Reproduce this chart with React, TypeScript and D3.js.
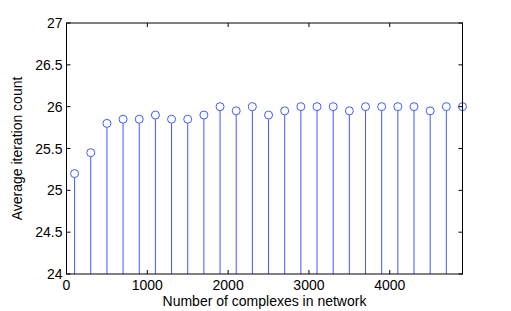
import { useEffect, useRef } from 'react';
import * as d3 from 'd3';

// network sizes (number of complexes) and average iteration counts
const complexes = [100, 300, 500, 700, 900, 1100, 1300, 1500, 1700, 1900, 2100, 2300, 2500,
  2700, 2900, 3100, 3300, 3500, 3700, 3900, 4100, 4300, 4500, 4700, 4900];
const iterations = [25.2, 25.45, 25.8, 25.85, 25.85, 25.9, 25.85, 25.85, 25.9, 26, 25.95, 26, 25.9,
  25.95, 26, 26, 26, 25.95, 26, 26, 26, 26, 25.95, 26, 26];
const xTicks = [0, 1000, 2000, 3000, 4000];
const yTicks = [24, 24.5, 25, 25.5, 26, 26.5, 27];

const App = () => {
  const svgRef = useRef<SVGSVGElement>(null);

  useEffect(() => {
    const width = 511;
    const height = 311;
    const margin = { top: 23, right: 48.5, bottom: 37, left: 66.5 };
    const fs = 14;

    const svg = d3.select(svgRef.current)
      .attr('width', width)
      .attr('height', height)
      .style('font-family', '"Liberation Sans", Arial, sans-serif');
    svg.selectAll('*').remove();

    const x = d3.scaleLinear()
      .domain([0, 4900])
      .range([margin.left, width - margin.right]);
    const y = d3.scaleLinear()
      .domain([24, 27])
      .range([height - margin.bottom, margin.top]);

    const data = complexes.map((c, i) => ({ c, v: iterations[i] }));
    const color = '#3f5cff';

    // stems
    svg.append('g')
      .selectAll('line')
      .data(data)
      .enter().append('line')
      .attr('x1', d => x(d.c))
      .attr('x2', d => x(d.c))
      .attr('y1', y(24))
      .attr('y2', d => y(d.v) + 4)
      .attr('stroke', color)
      .attr('stroke-width', 1);

    // markers
    svg.append('g')
      .selectAll('circle')
      .data(data)
      .enter().append('circle')
      .attr('cx', d => x(d.c))
      .attr('cy', d => y(d.v))
      .attr('r', 4)
      .attr('fill', 'none')
      .attr('stroke', color)
      .attr('stroke-width', 1);

    // box + inward ticks
    const [x0, x1] = x.range();
    const [y0, y1] = y.range();
    const axes = svg.append('g').attr('stroke', '#000').attr('stroke-width', 1);
    axes.append('rect')
      .attr('x', x0).attr('y', y1)
      .attr('width', x1 - x0).attr('height', y0 - y1)
      .attr('fill', 'none');
    const tk = 4;
    xTicks.forEach(t => {
      axes.append('line').attr('x1', x(t)).attr('x2', x(t)).attr('y1', y0).attr('y2', y0 - tk);
      axes.append('line').attr('x1', x(t)).attr('x2', x(t)).attr('y1', y1).attr('y2', y1 + tk);
    });
    yTicks.forEach(t => {
      axes.append('line').attr('x1', x0).attr('x2', x0 + tk).attr('y1', y(t)).attr('y2', y(t));
      axes.append('line').attr('x1', x1).attr('x2', x1 - tk).attr('y1', y(t)).attr('y2', y(t));
    });

    svg.append('g')
      .selectAll('text')
      .data(xTicks)
      .enter().append('text')
      .attr('x', d => x(d))
      .attr('y', y0 + 16)
      .attr('text-anchor', 'middle')
      .attr('font-size', fs)
      .text(d => d);

    svg.append('g')
      .selectAll('text')
      .data(yTicks)
      .enter().append('text')
      .attr('x', x0 - 4)
      .attr('y', d => y(d) + 5)
      .attr('text-anchor', 'end')
      .attr('font-size', fs)
      .text(d => d);

    svg.append('text')
      .attr('x', (x0 + x1) / 2)
      .attr('y', 306)
      .attr('text-anchor', 'middle')
      .attr('font-size', fs)
      .text('Number of complexes in network');

    svg.append('text')
      .attr('transform', `translate(22, ${(y0 + y1) / 2}) rotate(-90)`)
      .attr('text-anchor', 'middle')
      .attr('font-size', fs)
      .text('Average iteration count');
  }, []);

  return (
    <div style={{ position: 'absolute', left: 0, top: 0 }}>
      <svg ref={svgRef} />
    </div>
  );
};

export default App;
